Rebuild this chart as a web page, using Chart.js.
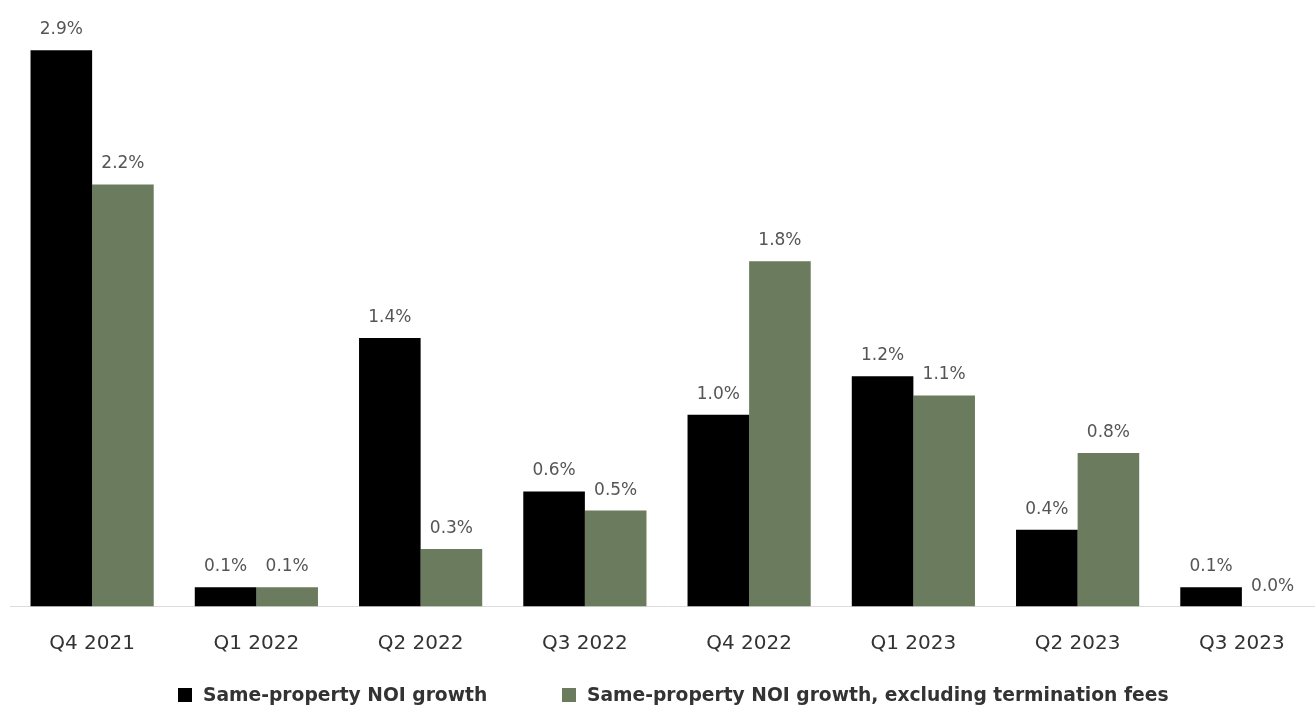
<!DOCTYPE html>
<html>
<head>
<meta charset="utf-8">
<script src="https://cdn.jsdelivr.net/npm/chart.js@4/dist/chart.umd.min.js"></script>
<style>
  html, body { margin: 0; padding: 0; background: #fff; overflow: hidden; }
  #wrap { position: relative; width: 1324px; height: 709px; }
  .key { position: absolute; top: 684px; display: flex; align-items: center;
         font: bold 18.7px "DejaVu Sans", sans-serif; color: #333; white-space: nowrap; }
  .key i { display: inline-block; width: 14px; height: 14px; margin-right: 11px; }
</style>
</head>
<body>
<div id="wrap">
  <canvas id="app" width="1324" height="709"></canvas>
  <div class="key" style="left:178px"><i style="background:#000"></i>Same-property NOI growth</div>
  <div class="key" style="left:562px"><i style="background:#6b7b5e"></i>Same-property NOI growth, excluding termination fees</div>
</div>
<script>
const quarters = ['Q4 2021', 'Q1 2022', 'Q2 2022', 'Q3 2022', 'Q4 2022', 'Q1 2023', 'Q2 2023', 'Q3 2023'];
const noiGrowth = [2.9, 0.1, 1.4, 0.6, 1.0, 1.2, 0.4, 0.1];
const noiGrowthExFees = [2.2, 0.1, 0.3, 0.5, 1.8, 1.1, 0.8, 0.0];
const seriesNames = ['Same-property NOI growth', 'Same-property NOI growth, excluding termination fees'];
const seriesColors = ['#000000', '#6b7b5e'];

// value labels above each bar
const barLabels = {
  id: 'barLabels',
  afterDatasetsDraw(chart) {
    const ctx = chart.ctx;
    ctx.save();
    ctx.font = '17px "DejaVu Sans", sans-serif';
    ctx.fillStyle = '#555';
    ctx.textAlign = 'center';
    ctx.textBaseline = 'alphabetic';
    chart.data.datasets.forEach((ds, i) => {
      chart.getDatasetMeta(i).data.forEach((bar, j) => {
        ctx.fillText(ds.data[j].toFixed(1) + '%', bar.x, bar.y - 16);
      });
    });
    ctx.restore();
  }
};

const datasets = [noiGrowth, noiGrowthExFees].map((values, i) => ({
  label: seriesNames[i],
  data: values,
  backgroundColor: seriesColors[i],
  borderWidth: 0,
  categoryPercentage: 0.75,
  barPercentage: 1.0
}));

new Chart(document.getElementById('app'), {
  type: 'bar',
  data: { labels: quarters, datasets },
  options: {
    responsive: false,
    animation: false,
    layout: { padding: { top: 31, left: 10, right: 0, bottom: 28.5 } },
    plugins: {
      legend: { display: false },
      tooltip: { enabled: false }
    },
    scales: {
      x: {
        grid: { display: false, drawTicks: false },
        border: { display: true, color: '#dcdcdc', width: 1 },
        ticks: {
          padding: 25,
          color: '#333',
          font: { family: '"DejaVu Sans", sans-serif', size: 20 }
        }
      },
      y: {
        display: false,
        min: 0,
        max: 3.0
      }
    }
  },
  plugins: [barLabels]
});
</script>
</body>
</html>
